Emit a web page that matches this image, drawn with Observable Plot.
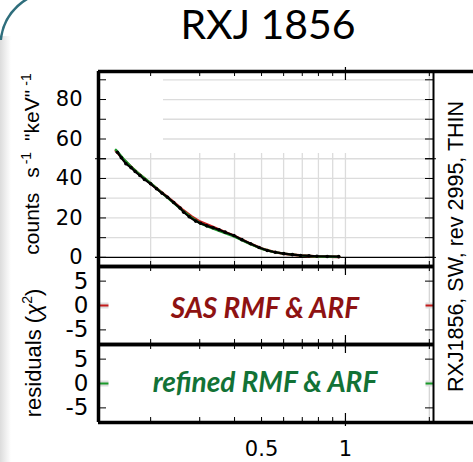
<!DOCTYPE html>
<html><head><meta charset="utf-8">
<script src="https://cdn.jsdelivr.net/npm/d3@7"></script>
<script src="https://cdn.jsdelivr.net/npm/@observablehq/plot@0.6"></script>
<style>
body{margin:0;background:#fff;}
#c{position:relative;width:473px;height:462px;overflow:hidden;background:#fff;}
#c > svg{position:absolute;left:0;overflow:visible;}
</style></head><body><div id="c"></div>
<script>
// ---- data ----
const energy = [0.152,0.157,0.163,0.170,0.176,0.183,0.190,0.200,0.210,0.220,0.230,0.242,0.255,0.263,0.275,0.290,0.302,0.318,0.335,0.352,0.370,0.398,0.425,0.457,0.490,0.524,0.560,0.601,0.645,0.690,0.740,0.790,0.860,0.946];
const counts = [53.3,50.5,47.5,45.5,43.5,41.5,39.5,37.3,34.8,32.5,30.5,27.8,25.0,22.9,20.6,18.4,17.3,16.0,15.0,14.0,12.8,11.1,9.0,6.9,5.0,3.5,2.6,1.9,1.4,1.0,0.8,0.6,0.5,0.4];
const modelEnergy = [0.150,0.160,0.170,0.180,0.200,0.220,0.240,0.260,0.280,0.300,0.330,0.360,0.400,0.450,0.500,0.550,0.600,0.700,0.800,0.950];
const sasModel = [54.0,49.5,46.0,42.8,37.4,32.8,28.4,24.3,20.8,18.2,15.8,13.6,10.9,7.3,4.5,2.9,1.9,0.9,0.5,0.3];
const refinedModel = [54.5,49.8,46.0,42.8,37.6,32.6,28.0,23.8,20.2,17.4,15.0,13.0,10.5,7.1,4.4,2.8,1.9,0.9,0.5,0.3];
const residualZero = [0];
const countTicks = [0,20,40,60,80];
const countMinor = [0,10,20,30,40,50,60,70,80,90];
const residTicks = [-5,0,5];
const energyTicks = [0.5,1];
const energyTickLabels = ["0.5","1"];
const energyMinor = [0.2,0.3,0.4,0.5,0.6,0.7,0.8,0.9,2];
const energyGridLow = [0.2,0.3,0.4,0.5,0.6,0.7,0.8,0.9,1];
const gridLow = [10,20,30,40,50];
const gridHigh = [60,70,80,90];
const titleText = "RXJ 1856";
const sideLabel = "RXJ1856, SW, rev 2995, THIN";
const label1 = "SAS RMF & ARF";
const label2 = "refined RMF & ARF";

const dataRows = energy.map((e,i)=>({e, c: counts[i]}));
const modelRows = modelEnergy.map((e,i)=>({e, sas: sasModel[i], ref: refinedModel[i]}));
const xLabelRows = energyTicks.map((e,i)=>({e, t: energyTickLabels[i]}));

// ---- layout ----
const W = 473, ML = 98, MR = 40, PW = W - ML - MR;
const xDom = [0.13, 2.07];
const topDom = [-4.6, 94.2];
const resDom = [-8, 8];
const RED = "#8e1212", GREEN = "#127236";
const st = {background:"transparent", overflow:"visible", fontFamily:"DejaVu Sans", color:"black"};

function xEdgeTicks(h){
  return [
    Plot.tickX(energyMinor, {x: d=>d, insetBottom: h-5, stroke:"black", strokeWidth:1}),
    Plot.tickX(energyMinor, {x: d=>d, insetTop: h-5, stroke:"black", strokeWidth:1}),
    Plot.tickX([1], {x: d=>d, insetBottom: h-9, insetTop: -4, stroke:"black", strokeWidth:1.2}),
    Plot.tickX([1], {x: d=>d, insetTop: h-9, insetBottom: -4, stroke:"black", strokeWidth:1.2})
  ];
}
function yEdgeTicks(vals){
  return [
    Plot.tickY(vals, {y: d=>d, insetRight: PW-8, stroke:"black", strokeWidth:1}),
    Plot.tickY(vals, {y: d=>d, insetLeft: PW-8, stroke:"black", strokeWidth:1})
  ];
}
function frameLines(dom, topExt, botExt){
  return [
    Plot.ruleX([xDom[0]], {x: d=>d, stroke:"black", strokeWidth:3.5}),
    Plot.ruleX([xDom[1]], {x: d=>d, stroke:"black", strokeWidth:2}),
    Plot.ruleY([dom[1]], {y: d=>d, stroke:"black", strokeWidth:3.5, insetRight: topExt ? -MR : 0}),
    Plot.ruleY([dom[0]], {y: d=>d, stroke:"black", strokeWidth:3.5, insetRight: botExt ? -MR : 0})
  ];
}

const c = d3.select("#c");

// decoration (slide shadow + rounded border)
const deco = c.append("svg").attr("width",W).attr("height",462).style("top","0px");
const g = deco.append("defs").append("linearGradient").attr("id","sh").attr("x1","0").attr("x2","1");
g.append("stop").attr("offset","0").attr("stop-color","#dcdcdc");
g.append("stop").attr("offset","0.5").attr("stop-color","#eeeeee");
g.append("stop").attr("offset","1").attr("stop-color","#ffffff");
deco.append("rect").attr("x",0).attr("y",36).attr("width",11).attr("height",430).attr("fill","url(#sh)");
deco.append("path").attr("d","M 0.8 40 A 53 53 0 0 1 53 -8").attr("fill","none").attr("stroke","#2f6e7c").attr("stroke-width",2.5);

// top panel
const topPlot = Plot.plot({
  width: W, height: 266, marginTop: 71, marginBottom: 0, marginLeft: ML, marginRight: MR,
  x: {type:"log", domain: xDom, axis: null},
  y: {domain: topDom},
  style: st,
  marks: [
    Plot.ruleY(gridLow, {y: d=>d, stroke:"#dcdcdc", strokeWidth:1.3}),
    Plot.ruleY(gridHigh, {y: d=>d, stroke:"#dcdcdc", strokeWidth:1.3, insetLeft: 65}),
    Plot.ruleX(energyGridLow, {x: d=>d, stroke:"#dcdcdc", strokeWidth:1.3, insetTop: 82}),
    Plot.ruleX([2], {x: d=>d, stroke:"#dcdcdc", strokeWidth:1.3}),
    Plot.ruleY([0], {y: d=>d, stroke:"black", strokeWidth:1.2, insetLeft:-3}),
    Plot.line(modelRows, {x:"e", y:"sas", stroke:"#c41b1b", strokeWidth:2.6}),
    Plot.line(modelRows, {x:"e", y:"ref", stroke:"#1a9a2a", strokeWidth:2.4}),
    Plot.line(dataRows, {x:"e", y:"c", stroke:"black", strokeWidth:2.2}),
    Plot.dot(dataRows, {x:"e", y:"c", r:1.8, fill:"black"}),
    ...yEdgeTicks(countMinor),
    Plot.tickY([0,50], {y: d=>d, insetRight: PW-8, insetLeft:-3, stroke:"black"}),
    Plot.tickY([0,50], {y: d=>d, insetLeft: PW-8, insetRight:-3, stroke:"black"}),
    ...xEdgeTicks(195),
    Plot.axisY(countTicks, {anchor:"left", tickSize:0, tickPadding:16, fontSize:21, label:null}),
    ...frameLines(topDom, true, false)
  ]
});
d3.select(topPlot).style("top","0px");
c.node().appendChild(topPlot);

function residPanel(color, withX, height){
  return Plot.plot({
    width: W, height, marginTop: 0, marginBottom: withX ? 40 : 0, marginLeft: ML, marginRight: MR,
    x: {type:"log", domain: xDom, axis: null},
    y: {domain: resDom},
    style: st,
    marks: [
      Plot.ruleX(energyGridLow.concat([2]), {x: d=>d, stroke:"#d6d6d6", strokeWidth:1.3}),
      Plot.ruleY(residualZero, {y: d=>d, stroke:"#dddddd", strokeWidth:6}),
      Plot.ruleY(residualZero, {y: d=>d, stroke: color, strokeWidth:2}),
      Plot.frame({fill:"white", stroke:null, insetLeft:10, insetRight:8, insetTop:4, insetBottom:4}),
      ...yEdgeTicks([-5,5]),
      ...xEdgeTicks(78),
      Plot.axisY(residTicks, {anchor:"left", tickSize:0, tickPadding:10, fontSize:23, label:null, tickFormat: d=>String(d)}),
      ...(withX ? [Plot.text(xLabelRows, {x:"e", text:"t", frameAnchor:"bottom", lineAnchor:"top", dy:19, fontSize:21, fill:"black"})] : []),
      ...frameLines(resDom, false, withX)
    ]
  });
}
const midPlot = residPanel("#c41b1b", false, 78);
d3.select(midPlot).style("top","266px");
c.node().appendChild(midPlot);
const botPlot = residPanel("#1a9a2a", true, 118);
d3.select(botPlot).style("top","344px");
c.node().appendChild(botPlot);

// text overlay
const ov = c.append("svg").attr("width",W).attr("height",462).style("top","0px");
ov.append("text").attr("x",268).attr("y",39).attr("text-anchor","middle")
  .attr("font-family","Lato").attr("font-size",41).attr("fill","black").text(titleText);
const t1 = ov.append("text").attr("transform","translate(39,164) rotate(-90)").attr("text-anchor","middle")
  .attr("font-family","Liberation Sans").attr("font-size",21).attr("fill","black");
t1.append("tspan").text("counts");
t1.append("tspan").attr("dx",15).text("s");
t1.append("tspan").attr("dx",3).attr("dy",-8).attr("font-size",14).text("-1");
t1.append("tspan").attr("dx",11).attr("dy",8).text("\"keV\"");
t1.append("tspan").attr("dx",4).attr("dy",-8).attr("font-size",14).text("-1");
const t2 = ov.append("text").attr("transform","translate(41,353) rotate(-90)").attr("text-anchor","middle")
  .attr("font-family","Liberation Sans").attr("font-size",22).attr("fill","black");
t2.append("tspan").text("residuals (");
t2.append("tspan").attr("font-style","italic").text("χ");
t2.append("tspan").attr("dy",-9).attr("font-size",14).text("2");
t2.append("tspan").attr("dy",9).text(")");
ov.append("text").attr("transform","translate(463,246.5) rotate(-90)").attr("text-anchor","middle")
  .attr("font-family","Liberation Sans").attr("font-size",21.5).attr("fill","black").text(sideLabel);
ov.append("text").attr("x",265).attr("y",318).attr("text-anchor","middle")
  .attr("font-family","Lato").attr("font-weight","bold").attr("font-style","italic")
  .attr("font-size",28).attr("fill",RED).text(label1);
ov.append("text").attr("x",265).attr("y",392).attr("text-anchor","middle")
  .attr("font-family","Lato").attr("font-weight","bold").attr("font-style","italic")
  .attr("font-size",28).attr("fill",GREEN).text(label2);
</script></body></html>
